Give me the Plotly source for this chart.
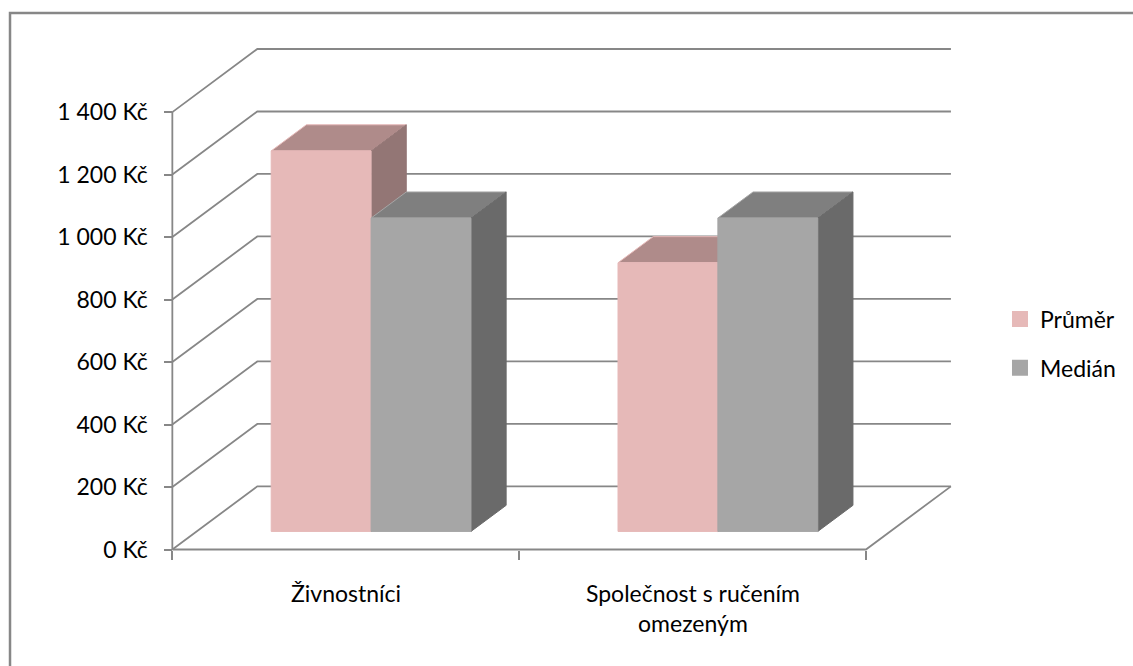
import plotly.graph_objects as go

# ---- data -------------------------------------------------------------
categories = ["Živnostníci", "Společnost s ručením<br>omezeným"]
series_names = ["Průměr", "Medián"]
prumer = [1218, 860]
median = [1003, 1003]
tick_values = [0, 200, 400, 600, 800, 1000, 1200, 1400]
tick_labels = ["0 Kč", "200 Kč", "400 Kč", "600 Kč", "800 Kč",
               "1 000 Kč", "1 200 Kč", "1 400 Kč"]

# ---- styling ----------------------------------------------------------
FONT = "Lato"
GRID = "#878787"
FACE = {"Průměr": ("#E6B9B8", "#AF8B8A", "#937675"),   # front, top, side
        "Medián": ("#A6A6A6", "#7F7F7F", "#6A6A6A")}

# oblique projection of the 3-D box: depth shift in x (category units) and y (Kč)
DX, DY = 0.245, 202
F0, F1 = 0.286, 0.70          # front / back of the bar row as fraction of depth
SLOTS = [(0.215, 0.503), (0.503, 0.791)]   # bar extents inside one category
YMAX = tick_values[-1]

fig = go.Figure()


def line_trace(xs, ys, width=1.8):
    fig.add_trace(go.Scatter(x=xs, y=ys, mode="lines", showlegend=False,
                             hoverinfo="skip",
                             line=dict(color=GRID, width=width)))


# walls: left-wall diagonals and back-wall gridlines
ncat = len(categories)
gx, gy = [], []
for v in tick_values:
    gx += [0, DX, ncat + DX, None]
    gy += [v, v + DY, v + DY, None]
line_trace(gx, gy)
# floor front edge + right edge, and the value axis line
line_trace([0, ncat, ncat + DX], [0, 0, DY])
line_trace([0, 0], [0, YMAX])


def poly(xs, ys, fill, edge):
    fig.add_trace(go.Scatter(x=xs + [xs[0]], y=ys + [ys[0]], mode="lines",
                             fill="toself", fillcolor=fill,
                             line=dict(color=edge, width=1),
                             showlegend=False, hoverinfo="skip"))


values = {"Průměr": prumer, "Medián": median}
for i in range(ncat):
    for s, name in enumerate(series_names):
        v = values[name][i]
        front, top, side = FACE[name]
        a = i + SLOTS[s][0] + F0 * DX
        b = i + SLOTS[s][1] + F0 * DX
        z0 = F0 * DY
        ddx, ddy = (F1 - F0) * DX, (F1 - F0) * DY
        # top face
        poly([a, b, b + ddx, a + ddx], [v + z0, v + z0, v + z0 + ddy, v + z0 + ddy],
             top, front)
        # right side face
        poly([b, b + ddx, b + ddx, b], [z0, z0 + ddy, v + z0 + ddy, v + z0],
             side, side)
        # front face
        poly([a, b, b, a], [z0, z0, v + z0, v + z0], front, front)

# legend entries
for name in series_names:
    fig.add_trace(go.Scatter(x=[None], y=[None], mode="markers", name=name,
                             legendgroup=name,
                             marker=dict(symbol="square", size=16,
                                         color=FACE[name][0])))

# category labels under the floor
for i, cat in enumerate(categories):
    fig.add_annotation(x=i + 0.5, y=0, xref="x", yref="y", text=cat,
                       showarrow=False, yanchor="top", xanchor="center",
                       yshift=-27, font=dict(family=FONT, size=23, color="#000"))

XR = [-0.05, 2.30]
YR = [-40, 1650]
fig.update_layout(
    width=1133, height=666,
    margin=dict(l=155, r=163, t=34, b=104),
    paper_bgcolor="white", plot_bgcolor="white",
    font=dict(family=FONT, size=23, color="#000"),
    xaxis=dict(range=XR, anchor="free",
               position=(0 - YR[0]) / (YR[1] - YR[0]),
               tickvals=list(range(ncat + 1)), ticks="outside", ticklen=9,
               tickwidth=2, tickcolor=GRID, showticklabels=False,
               showgrid=False, zeroline=False, showline=False, fixedrange=True),
    yaxis=dict(range=YR, anchor="free",
               position=(0 - XR[0]) / (XR[1] - XR[0]),
               tickvals=tick_values, ticktext=tick_labels,
               ticks="outside", ticklen=8, tickwidth=2, tickcolor=GRID,
               ticklabelstandoff=12,
               tickfont=dict(family=FONT, size=23, color="#000"),
               showgrid=False, zeroline=False, showline=False, fixedrange=True),
    legend=dict(x=1.0368, xanchor="left", y=0.4138, yanchor="middle",
                font=dict(family=FONT, size=23, color="#000"),
                itemsizing="trace", tracegroupgap=16,
                bgcolor="rgba(0,0,0,0)"),
    shapes=[dict(type="rect", xref="paper", yref="paper",
                 x0=-0.1779, x1=1.2086, y0=-0.2235, y1=1.0398,
                 line=dict(color=GRID, width=2.5), layer="below")],
)

fig.write_html("out.html")
